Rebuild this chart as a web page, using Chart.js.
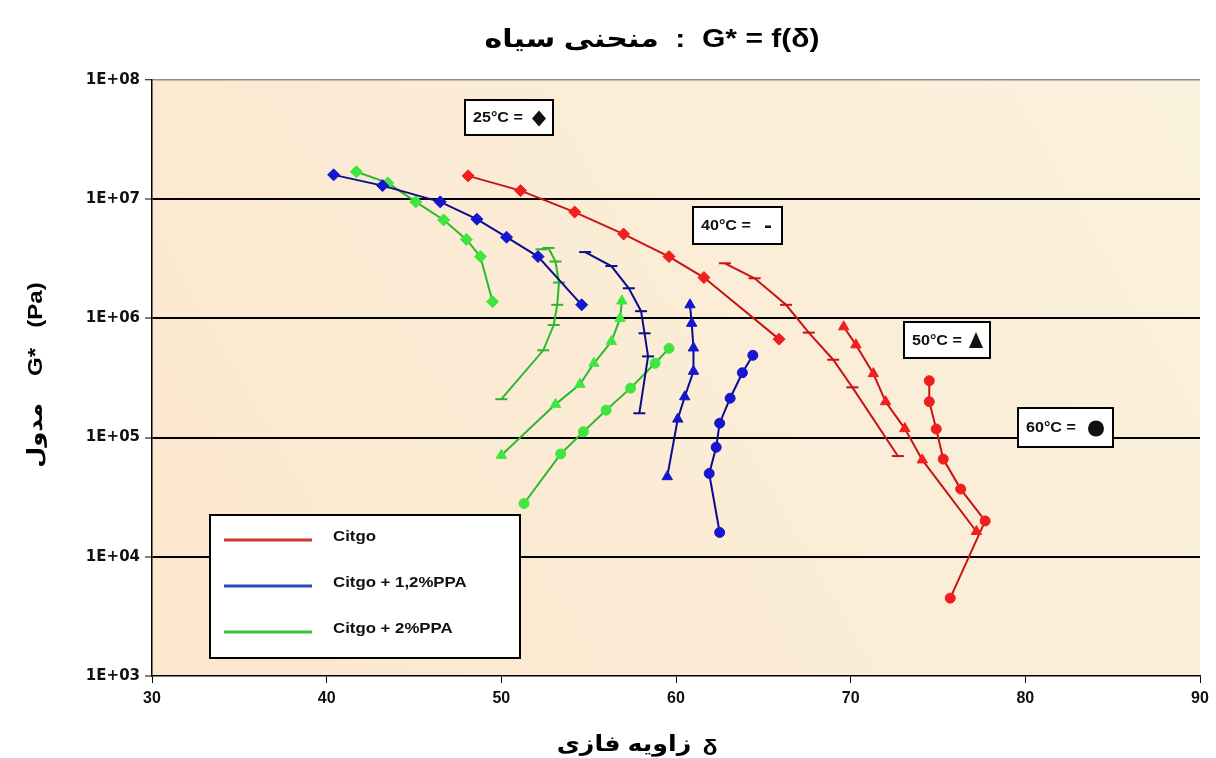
<!DOCTYPE html>
<html>
<head>
<meta charset="utf-8">
<script src="https://cdn.jsdelivr.net/npm/chart.js@4.4.0/dist/chart.umd.min.js"></script>
<style>
body { margin: 0; background: #fff; }
</style>
</head>
<body>
<canvas id="black_chart" width="1216" height="758"></canvas>
<script>
const black_chart = document.querySelector('#black_chart')

const yTickValues = [1e3, 1e4, 1e5, 1e6, 1e7, 1e8]
const yTickLabels = ['1E+03', '1E+04', '1E+05', '1E+06', '1E+07', '1E+08']
const legendLabels = ['Citgo', 'Citgo + 1,2%PPA', 'Citgo + 2%PPA']
const tempLabels = ['25°C =', '40°C =', '50°C =', '60°C =']

// [phase angle (deg), G* (Pa)]
const citgo25 = [[48.1, 1.57e7], [51.1, 1.18e7], [54.2, 7.8e6], [57.0, 5.1e6], [59.6, 3.3e6], [61.6, 2.2e6], [65.9, 6.7e5]]
const citgo40 = [[62.8, 2.9e6], [64.5, 2.17e6], [66.3, 1.3e6], [67.6, 7.6e5], [69.0, 4.5e5], [70.1, 2.64e5], [72.7, 7.0e4]]
const citgo50 = [[69.6, 8.5e5], [70.3, 6.0e5], [71.3, 3.44e5], [72.0, 2.0e5], [73.1, 1.19e5], [74.1, 6.5e4], [77.2, 1.63e4]]
const citgo60 = [[74.5, 3.0e5], [74.5, 2.0e5], [74.9, 1.18e5], [75.3, 6.6e4], [76.3, 3.7e4], [77.7, 2.0e4], [75.7, 4.5e3]]

const ppa12_25 = [[40.4, 1.6e7], [43.2, 1.3e7], [46.5, 9.5e6], [48.6, 6.8e6], [50.3, 4.8e6], [52.1, 3.3e6], [54.6, 1.3e6]]
const ppa12_40 = [[54.8, 3.6e6], [56.3, 2.75e6], [57.3, 1.79e6], [58.0, 1.15e6], [58.2, 7.5e5], [58.4, 4.8e5], [57.9, 1.6e5]]
const ppa12_50 = [[60.8, 1.3e6], [60.9, 9.1e5], [61.0, 5.65e5], [61.0, 3.6e5], [60.5, 2.2e5], [60.1, 1.43e5], [59.5, 4.7e4]]
const ppa12_60 = [[64.4, 4.9e5], [63.8, 3.5e5], [63.1, 2.14e5], [62.5, 1.32e5], [62.3, 8.3e4], [61.9, 5.0e4], [62.5, 1.6e4]]

const ppa2_25 = [[41.7, 1.7e7], [43.5, 1.37e7], [45.1, 9.5e6], [46.7, 6.7e6], [48.0, 4.6e6], [48.8, 3.3e6], [49.5, 1.38e6]]
const ppa2_40 = [[52.3, 3.8e6], [52.7, 3.9e6], [53.1, 3.0e6], [53.3, 2.0e6], [53.2, 1.3e6], [53.0, 8.8e5], [52.4, 5.4e5], [50.0, 2.1e5]]
const ppa2_50 = [[56.9, 1.4e6], [56.8, 1.0e6], [56.3, 6.4e5], [55.3, 4.2e5], [54.5, 2.8e5], [53.1, 1.9e5], [50.0, 7.1e4]]
const ppa2_60 = [[59.6, 5.6e5], [58.8, 4.2e5], [57.4, 2.6e5], [56.0, 1.7e5], [54.7, 1.12e5], [53.4, 7.3e4], [51.3, 2.8e4]]

const red = { line: '#C81414', mark: '#F01E1E', legend: '#D03838' }
const blue = { line: '#0C0C8C', mark: '#1616D0', legend: '#2C48B8' }
const green = { line: '#2CB82C', mark: '#40E640', legend: '#3CC43C' }

// marker per temperature: 25 diamond, 40 dash, 50 triangle, 60 circle
const styles = [
    { pointStyle: 'rectRot', radius: 6 },
    { pointStyle: 'line', radius: 6 },
    { pointStyle: 'triangle', radius: 6 },
    { pointStyle: 'circle', radius: 5 }
]

function series(points, color, t) {
    const s = styles[t]
    return {
        data: points.map(p => ({ x: p[0], y: p[1] })),
        showLine: true,
        borderColor: color.line,
        borderWidth: 2,
        pointStyle: s.pointStyle,
        pointRadius: s.radius,
        pointBackgroundColor: color.mark,
        pointBorderColor: s.pointStyle === 'line' ? color.line : color.mark,
        pointBorderWidth: s.pointStyle === 'line' ? 2 : 1
    }
}

const datasets = [
    series(citgo25, red, 0), series(citgo40, red, 1), series(citgo50, red, 2), series(citgo60, red, 3),
    series(ppa12_25, blue, 0), series(ppa12_40, blue, 1), series(ppa12_50, blue, 2), series(ppa12_60, blue, 3),
    series(ppa2_25, green, 0), series(ppa2_40, green, 1), series(ppa2_50, green, 2), series(ppa2_60, green, 3)
]

const persianFont = '"Liberation Sans", "DejaVu Sans", sans-serif'

function wideText(ctx, text, x, y, sx) {
    ctx.save()
    ctx.translate(x, y)
    ctx.scale(sx, 1)
    ctx.fillText(text, 0, 0)
    ctx.restore()
}

const backdrop = {
    id: 'backdrop',
    beforeDraw(chart) {
        const { ctx, chartArea: a } = chart
        const g = ctx.createLinearGradient(a.left, a.bottom, a.right, a.top)
        g.addColorStop(0, '#FCE7CE')
        g.addColorStop(1, '#FAF1DD')
        ctx.save()
        ctx.fillStyle = g
        ctx.fillRect(a.left, a.top, a.right - a.left, a.bottom - a.top)
        ctx.restore()
    }
}

const decorations = {
    id: 'decorations',
    afterDraw(chart) {
        const ctx = chart.ctx
        ctx.save()
        ctx.direction = 'ltr'
        ctx.fillStyle = '#000'
        ctx.textBaseline = 'middle'
        ctx.textAlign = 'center'

        // title
        ctx.font = 'bold 25px ' + persianFont
        wideText(ctx, 'منحنی سیاه  :  G* = f(δ)', 652, 40, 1.2)

        // x title
        ctx.font = 'bold 22px ' + persianFont
        wideText(ctx, 'زاویه فازی', 624, 745, 1.15)
        wideText(ctx, 'δ', 710, 749, 1.1)

        // y title
        ctx.save()
        ctx.translate(36, 375)
        ctx.rotate(-Math.PI / 2)
        ctx.font = 'bold 21px ' + persianFont
        wideText(ctx, 'مدول    G*   (Pa)', 0, 0, 1.15)
        ctx.restore()

        // temperature boxes
        const boxes = [[465, 100, 88, 35], [693, 207, 89, 37], [904, 322, 86, 36], [1018, 408, 95, 39]]
        boxes.forEach((b, i) => {
            ctx.fillStyle = '#fff'
            ctx.fillRect(b[0], b[1], b[2], b[3])
            ctx.strokeStyle = '#000'
            ctx.lineWidth = 2
            ctx.strokeRect(b[0], b[1], b[2], b[3])
            ctx.fillStyle = '#111'
            ctx.font = 'bold 14px "Liberation Sans", Arial, sans-serif'
            ctx.textAlign = 'left'
            const ty = b[1] + b[3] / 2 + 1
            wideText(ctx, tempLabels[i], b[0] + 8, ty, 1.15)
            const mx = b[0] + b[2] - 14
            ctx.beginPath()
            if (i === 0) {
                ctx.moveTo(mx, ty - 8); ctx.lineTo(mx + 7, ty); ctx.lineTo(mx, ty + 8); ctx.lineTo(mx - 7, ty)
                ctx.closePath(); ctx.fill()
            } else if (i === 1) {
                ctx.fillRect(mx - 3, ty - 1, 6, 2.5)
            } else if (i === 2) {
                ctx.moveTo(mx, ty - 9); ctx.lineTo(mx + 7, ty + 7); ctx.lineTo(mx - 7, ty + 7)
                ctx.closePath(); ctx.fill()
            } else {
                ctx.arc(mx - 3, ty, 8, 0, Math.PI * 2); ctx.fill()
            }
        })

        // legend
        ctx.fillStyle = '#fff'
        ctx.fillRect(210, 515, 310, 143)
        ctx.strokeStyle = '#000'
        ctx.lineWidth = 2
        ctx.strokeRect(210, 515, 310, 143)
        const legendColors = [red.legend, blue.legend, green.legend]
        const rows = [540, 586, 632]
        legendLabels.forEach((label, i) => {
            ctx.strokeStyle = legendColors[i]
            ctx.lineWidth = 3
            ctx.beginPath()
            ctx.moveTo(224, rows[i])
            ctx.lineTo(312, rows[i])
            ctx.stroke()
            ctx.fillStyle = '#111'
            ctx.font = 'bold 15px "Liberation Sans", Arial, sans-serif'
            ctx.textAlign = 'left'
            wideText(ctx, label, 333, rows[i] - 3, 1.12)
        })
        ctx.restore()
    }
}

new Chart(black_chart, {
    type: 'scatter',
    data: { datasets },
    options: {
        responsive: false,
        animation: false,
        layout: { padding: { top: 80, right: 16, bottom: 0, left: 0 } },
        plugins: {
            legend: false,
            tooltip: { enabled: false }
        },
        scales: {
            x: {
                type: 'linear',
                min: 30,
                max: 90,
                afterFit: s => { s.height = 82 },
                ticks: {
                    stepSize: 10,
                    padding: 6,
                    color: '#111',
                    font: { family: '"Liberation Sans", Arial', size: 16, weight: 'bold' }
                },
                grid: {
                    drawOnChartArea: false,
                    tickLength: 7,
                    tickColor: '#000'
                },
                border: { color: '#000', width: 1.5 }
            },
            y: {
                type: 'logarithmic',
                min: 1e3,
                max: 1e8,
                afterFit: s => { s.width = 152 },
                afterBuildTicks: s => { s.ticks = yTickValues.map(v => ({ value: v, major: true })) },
                ticks: {
                    padding: 5,
                    color: '#111',
                    font: { family: '"DejaVu Sans", "Liberation Sans"', size: 15, weight: 'bold' },
                    callback: value => yTickLabels[yTickValues.indexOf(value)]
                },
                grid: {
                    color: c => c.tick && c.tick.value === 1e8 ? '#8c8c8c' : (c.tick && c.tick.value === 1e3 ? 'rgba(0,0,0,0)' : '#000'),
                    lineWidth: c => c.tick && c.tick.value === 1e8 ? 1.5 : 2,
                    tickLength: 7,
                    tickColor: '#000',
                    tickWidth: 1
                },
                border: { color: '#000', width: 1.5 }
            }
        }
    },
    plugins: [backdrop, decorations]
})
</script>
</body>
</html>
